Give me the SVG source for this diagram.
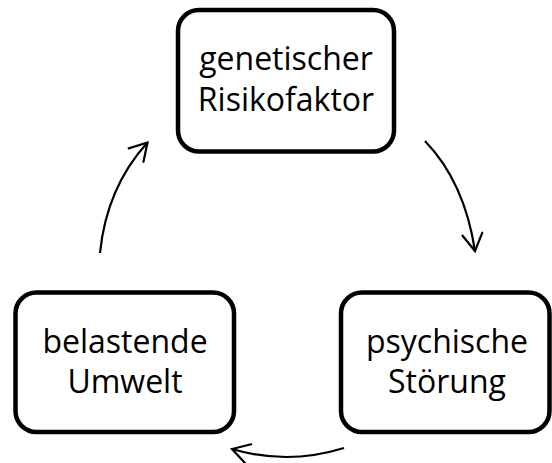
<svg xmlns="http://www.w3.org/2000/svg" width="552" height="463" viewBox="0 0 552 463">
<style>
.box{fill:#fff;stroke:#000;stroke-width:4.5}
.lbl{font-family:"Open Sans","Liberation Sans",sans-serif;font-size:32px;fill:#000;text-anchor:middle}
.arr{fill:none;stroke:#000;stroke-width:2.2;marker-end:url(#ah)}
</style>
<defs>
<marker id="ah" markerUnits="userSpaceOnUse" viewBox="-20 -12 22 24" refX="0" refY="0" markerWidth="22" markerHeight="24" orient="auto" overflow="visible">
<path d="M-17,-10 L0,0 L-17,10" fill="none" stroke="#000" stroke-width="2.2" stroke-linecap="round" stroke-linejoin="miter"/>
</marker>
</defs>
<rect width="552" height="463" fill="#fff"/>
<g id="connectors">
<path class="arr" d="M425,141 Q464.5,182 475,251"/>
<path class="arr" d="M344,448 Q287.5,465.5 232,449"/>
<path class="arr" d="M100,253 Q106.5,187.6 147.5,142.5"/>
</g>
<g id="node-genetisch">
<rect class="box" x="178" y="10" width="216" height="141.5" rx="21"/>
<text class="lbl" x="286" y="70">genetischer</text>
<text class="lbl" x="286" y="111">Risikofaktor</text>
</g>
<g id="node-umwelt">
<rect class="box" x="15.5" y="292.5" width="218.5" height="139.5" rx="21"/>
<text class="lbl" x="125" y="353">belastende</text>
<text class="lbl" x="125" y="393">Umwelt</text>
</g>
<g id="node-stoerung">
<rect class="box" x="341" y="292.5" width="208.5" height="139.5" rx="21"/>
<text class="lbl" x="447" y="353">psychische</text>
<text class="lbl" x="447" y="393">Störung</text>
</g>
</svg>
